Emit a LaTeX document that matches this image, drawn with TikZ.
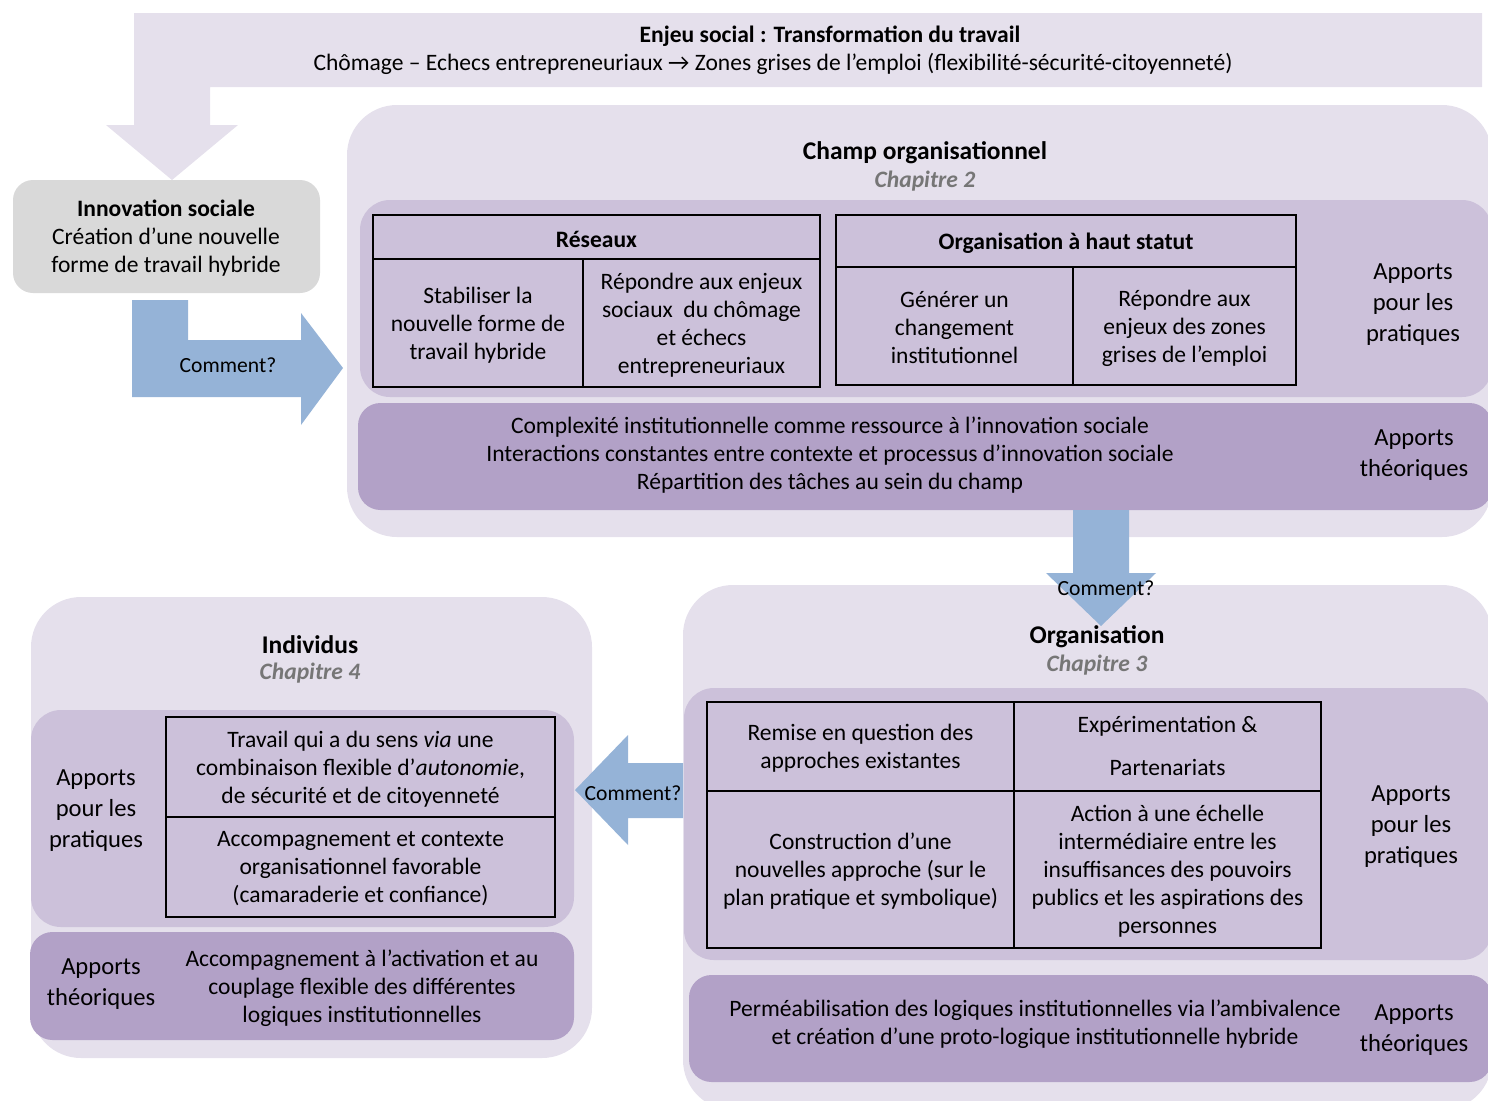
\documentclass[tikz,border=0pt]{standalone}
\usepackage{fontspec}
\setmainfont{Carlito}
\usetikzlibrary{fit}
\definecolor{lav}{HTML}{E5E0EC}
\definecolor{band}{HTML}{CCC1DA}
\definecolor{theo}{HTML}{B2A1C7}
\definecolor{ablue}{HTML}{95B3D7}
\definecolor{greybox}{HTML}{D9D9D9}
\definecolor{chapgray}{HTML}{767676}
\begin{document}
\begin{tikzpicture}[x=0.02cm,y=-0.02cm,
  txt/.style={align=center, font=\fontsize{13.4}{15.94}\selectfont, inner sep=0, yshift=-0.04cm},
  btxt/.style={txt, font=\fontsize{13.4}{15.94}\selectfont\bfseries},
  apl/.style={align=center, font=\fontsize{14}{17.6}\selectfont, inner sep=0, yshift=-0.05cm},
  ttl/.style={font=\fontsize{14.5}{17}\selectfont\bfseries, inner sep=0, yshift=-0.05cm},
  chap/.style={font=\fontsize{13.4}{17}\selectfont\bfseries\itshape, text=chapgray, inner sep=0, yshift=-0.05cm},
  bigbox/.style={fill=lav, rounded corners=1cm, inner sep=0},
  prband/.style={fill=band, rounded corners=0.6cm, inner sep=0},
  thband/.style={fill=theo, rounded corners=0.45cm, inner sep=0},
  cell/.style={draw=black, line width=1.1pt, fill=band, inner sep=0},
  cmt/.style={font=\fontsize{12.3}{14}\selectfont, inner sep=0, yshift=-0.04cm}
]
\useasboundingbox (0,0) rectangle (1488,1100);

% top banner arrow
\fill[lav] (134,13) -- (1482,13) -- (1482,87) -- (210,87) -- (210,125) -- (238,125)
  -- (172,180) -- (106,125) -- (134,125) -- cycle;
\node[btxt] (enjeu) at (830,34) {Enjeu social : Transformation du travail};
\node[txt] (enjeu2) at (773,62) {Chômage – Echecs entrepreneuriaux → Zones grises de l’emploi (flexibilité-sécurité-citoyenneté)};

% innovation sociale
\node[fill=greybox, rounded corners=0.4cm, inner sep=0, fit={(13,180)(320,293)}] (innov) {};
\node[txt] (innovtxt) at (166,236) {\textbf{Innovation sociale}\\Création d’une nouvelle\\forme de travail hybride};

% bent arrow
\fill[ablue] (132,300) -- (188,300) -- (188,340) -- (301,340) -- (301,313) -- (343,368)
  -- (301,425) -- (301,397) -- (132,397) -- cycle;
\node[cmt] (c1) at (228,363) {Comment?};

% Champ organisationnel
\node[bigbox, fit={(347,105)(1492,537)}] (champ) {};
\node[prband, fit={(360,200)(1492,397)}] (champpr) {};
\node[thband, fit={(358,403)(1492,510)}] (champth) {};
\node[ttl] (champt) at (925,150) {Champ organisationnel};
\node[chap] (champc) at (925,179) {Chapitre 2};

\node[cell, fit={(373,215)(820,259)}] (resh) {};
\node[btxt] at (resh.center) {Réseaux};
\node[cell, fit={(373,259)(583,387)}] (res1) {};
\node[txt] at (res1.center) {Stabiliser la\\nouvelle forme de\\travail hybride};
\node[cell, fit={(583,259)(820,387)}] (res2) {};
\node[txt] at (res2.center) {Répondre aux enjeux\\sociaux \ du chômage\\et échecs\\entrepreneuriaux};

\node[cell, fit={(836,215)(1296,267)}] (orgh) {};
\node[btxt] at (orgh.center) {Organisation à haut statut};
\node[cell, fit={(836,267)(1073,385)}] (org1) {};
\node[txt] at (org1.center) {Générer un\\changement\\institutionnel};
\node[cell, fit={(1073,267)(1296,385)}] (org2) {};
\node[txt] at (org2.center) {Répondre aux\\enjeux des zones\\grises de l’emploi};

\node[apl] (champap) at (1413,302) {Apports\\pour les\\pratiques};
\node[txt] (champtt) at (830,453) {Complexité institutionnelle comme ressource à l’innovation sociale\\Interactions constantes entre contexte et processus d’innovation sociale\\Répartition des tâches au sein du champ};
\node[apl] (champat) at (1414,453) {Apports\\théoriques};

% Organisation
\node[bigbox, fit={(683,585)(1492,1110)}] (orga) {};
\node[prband, fit={(684,688)(1492,960)}] (orgapr) {};
\node[thband, fit={(689,975)(1492,1082)}] (orgath) {};
\node[ttl] (orgat) at (1097,634) {Organisation};
\node[chap] (orgac) at (1097,663) {Chapitre 3};

\node[cell, fit={(707,702)(1014,791)}] (o11) {};
\node[txt] at (o11.center) {Remise en question des\\approches existantes};
\node[cell, fit={(1014,702)(1321,791)}] (o12) {};
\node[txt] at ([yshift=0.05cm]o12.center) {Expérimentation \&\\[8.5pt]Partenariats};
\node[cell, fit={(707,791)(1014,948)}] (o21) {};
\node[txt] at (o21.center) {Construction d’une\\nouvelles approche (sur le\\plan pratique et symbolique)};
\node[cell, fit={(1014,791)(1321,948)}] (o22) {};
\node[txt] at (o22.center) {Action à une échelle\\intermédiaire entre les\\insuffisances des pouvoirs\\publics et les aspirations des\\personnes};

\node[apl] (orgaap) at (1411,824) {Apports\\pour les\\pratiques};
\node[txt] (orgatt) at (1035,1022) {Perméabilisation des logiques institutionnelles via l’ambivalence\\et création d’une proto-logique institutionnelle hybride};
\node[apl] (orgaat) at (1414,1028) {Apports\\théoriques};

% Individus
\node[bigbox, fit={(31,597)(592,1058)}] (indiv) {};
\node[prband, fit={(31,710)(574,927)}] (indivpr) {};
\node[thband, fit={(30,932)(574,1040)}] (indivth) {};
\node[ttl] (indivt) at (310,642) {Individus};
\node[chap] (indivc) at (310,671) {Chapitre 4};

\node[cell, fit={(166,717)(555,817)}] (i1) {};
\node[txt] at (i1.center) {Travail qui a du sens \textit{via} une\\combinaison flexible d’\textit{autonomie},\\de sécurité et de citoyenneté};
\node[cell, fit={(166,817)(555,917)}] (i2) {};
\node[txt] at (i2.center) {Accompagnement et contexte\\organisationnel favorable\\(camaraderie et confiance)};

\node[apl] (indivap) at (96,808) {Apports\\pour les\\pratiques};
\node[txt] (indivtt) at (362,986) {Accompagnement à l’activation et au\\couplage flexible des différentes\\logiques institutionnelles};
\node[apl] (indivat) at (101,982) {Apports\\théoriques};

% down arrow
\fill[ablue] (1073,510) -- (1129,510) -- (1129,573) -- (1156,573) -- (1101,626) -- (1046,573) -- (1073,573) -- cycle;
\node[cmt] (c2) at (1106,586) {Comment?};

% left arrow
\fill[ablue] (683,763) -- (628,763) -- (628,735) -- (575,790) -- (628,845) -- (628,818) -- (683,818) -- cycle;
\node[cmt] (c3) at (633,791) {Comment?};
\end{tikzpicture}
\end{document}
